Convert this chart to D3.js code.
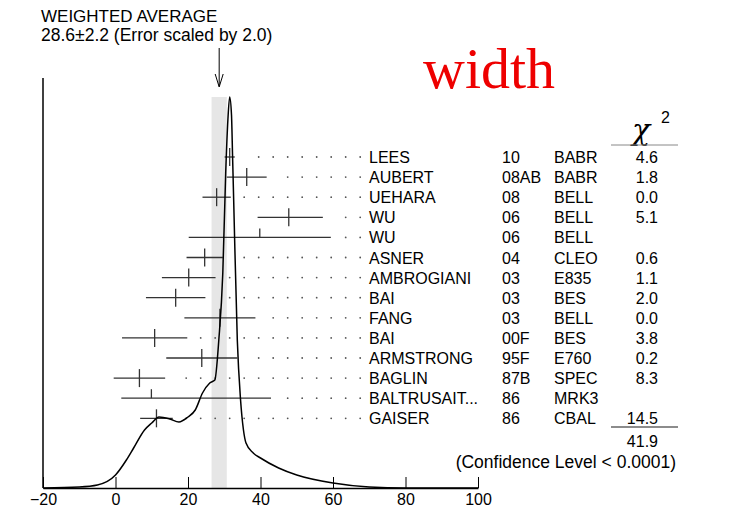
<!DOCTYPE html>
<html><head><meta charset="utf-8">
<script src="https://cdn.jsdelivr.net/npm/d3@7"></script>
<style>body{margin:0;background:#fff}text{font-family:"Liberation Sans",Arial,sans-serif}</style>
</head><body><div id="chart"></div>
<script>
// measurements (value, minus error, plus error), upper-half tick only for "half"
var names = ["LEES","AUBERT","UEHARA","WU","WU","ASNER","AMBROGIANI","BAI","FANG","BAI","ARMSTRONG","BAGLIN","BALTRUSAIT...","GAISER"];
var years = ["10","08AB","08","06","06","04","03","03","03","00F","95F","87B","86","86"];
var expts = ["BABR","BABR","BELL","BELL","BELL","CLEO","E835","BES","BELL","BES","E760","SPEC","MRK3","CBAL"];
var chi2 = ["4.6","1.8","0.0","5.1","","0.6","1.1","2.0","0.0","3.8","0.2","8.3","","14.5"];
var values = [31.5,36.2,27.9,47.8,39.8,24.6,20.2,16.6,28.8,10.8,23.8,6.6,9.9,11.3];
var errLo = [1.4,5.5,3.9,8.6,19.6,5.0,7.4,8.2,9.8,9.0,9.8,7.1,8.3,4.5];
var errHi = [1.4,5.5,3.9,9.4,19.6,5.0,7.4,8.2,9.8,9.0,9.8,7.1,33.0,4.5];
var halfTick = [false,false,false,false,true,false,false,false,false,false,false,false,true,false];
// ideogram curve (mass, relative height)
var curveX = [-20,-10,-5,0,3,5,8,10,12,15,17.5,20,22,24,26,27.4,28.5,29.6,30.4,31,31.5,32,32.3,32.6,33.6,34.5,35.3,36,38,40,45,50,60,70,80,100];
var curveH = [0,1,3,13,28,40,58,65,71,69,66,71,78,95,105,108,148,215,315,368,391,373,331,288,148,88,58,45,35,30,20,13,5,1,0,0];
var xTicks = [-20,0,20,40,60,80,100];
var avg = 28.6, avgErr = 2.1;

var W = 753, H = 513;
var svg = d3.select("#chart").append("svg").attr("width", W).attr("height", H);
var x = d3.scaleLinear().domain([-20,100]).range([43,478]);
var y = d3.scaleLinear().domain([0,391]).range([488,97]);
var rowY = function(i) { return 157 + i * 20.1; };

// average band
svg.append("rect").attr("x", x(avg-avgErr)).attr("width", x(avg+avgErr)-x(avg-avgErr))
  .attr("y", 97).attr("height", 488-97).attr("fill", "#e6e6e6");

// axes
svg.append("line").attr("x1",43).attr("x2",43).attr("y1",78).attr("y2",488).attr("stroke","#000").attr("stroke-width",1.5);
var ax = svg.append("g").attr("transform","translate(0,488)")
  .call(d3.axisBottom(x).tickValues(xTicks).tickSizeInner(-11).tickSizeOuter(0).tickPadding(6));
ax.select(".domain").attr("stroke-width",1.5);
ax.selectAll("text").attr("font-size",16).attr("fill","#000");

// dotted leaders
var grid = d3.range(-0.5, 68, 4);
values.forEach(function(v,i){
  var hi = v + errHi[i];
  svg.append("g").selectAll("circle").data(grid.filter(function(g){ return g >= hi + 3.5; }))
    .enter().append("circle").attr("cx", function(g){ return x(g); }).attr("cy", rowY(i))
    .attr("r", 0.9).attr("fill", "#555");
});

// error bars
var bars = svg.append("g").attr("stroke","#333").attr("stroke-width",1.3);
values.forEach(function(v,i){
  bars.append("line").attr("x1", x(v-errLo[i])).attr("x2", x(v+errHi[i])).attr("y1", rowY(i)).attr("y2", rowY(i));
  bars.append("line").attr("x1", x(v)).attr("x2", x(v)).attr("y1", rowY(i)-9).attr("y2", halfTick[i] ? rowY(i) : rowY(i)+9);
});

// ideogram
svg.append("path").datum(d3.zip(curveX, curveH))
  .attr("d", d3.line().x(function(d){return x(d[0]);}).y(function(d){return y(d[1]);}).curve(d3.curveMonotoneX))
  .attr("fill","none").attr("stroke","#000").attr("stroke-width",1.5);

// table text
var tbl = svg.append("g").attr("font-size",16).attr("fill","#000");
names.forEach(function(n,i){
  var ty = rowY(i) + 6;
  tbl.append("text").attr("x",369).attr("y",ty).text(n);
  tbl.append("text").attr("x",502).attr("y",ty).text(years[i]);
  tbl.append("text").attr("x",554).attr("y",ty).text(expts[i]);
  tbl.append("text").attr("x",658).attr("y",ty).attr("text-anchor","end").text(chi2[i]);
});
svg.append("text").attr("x",632).attr("y",140).attr("font-size",30)
  .style("font-family","'DejaVu Serif',serif").style("font-style","italic").text("χ");
svg.append("text").attr("x",661).attr("y",123).attr("font-size",16).text("2");
svg.append("line").attr("x1",611).attr("x2",678).attr("y1",145).attr("y2",145).attr("stroke","#888");
svg.append("line").attr("x1",611).attr("x2",678).attr("y1",427).attr("y2",427).attr("stroke","#666").attr("stroke-width",1.5);
svg.append("text").attr("x",658).attr("y",447).attr("font-size",16).attr("text-anchor","end").text("41.9");
svg.append("text").attr("x",676).attr("y",468).attr("font-size",17.5).attr("text-anchor","end").text("(Confidence Level < 0.0001)");

// title and arrow
svg.append("text").attr("x",41).attr("y",22).attr("font-size",17).text("WEIGHTED AVERAGE");
svg.append("text").attr("x",41).attr("y",41).attr("font-size",17.5).text("28.6±2.2 (Error scaled by 2.0)");
svg.append("line").attr("x1",x(avg)).attr("x2",x(avg)).attr("y1",48).attr("y2",86).attr("stroke","#000");
svg.append("path").attr("d","M"+(x(avg)-4)+",74L"+x(avg)+",87L"+(x(avg)+4)+",74").attr("fill","none").attr("stroke","#000");

svg.append("text").attr("x",423).attr("y",88).attr("font-size",58).attr("fill","#ee0000")
  .style("font-family","'Liberation Serif',serif").text("width");
</script></body></html>
